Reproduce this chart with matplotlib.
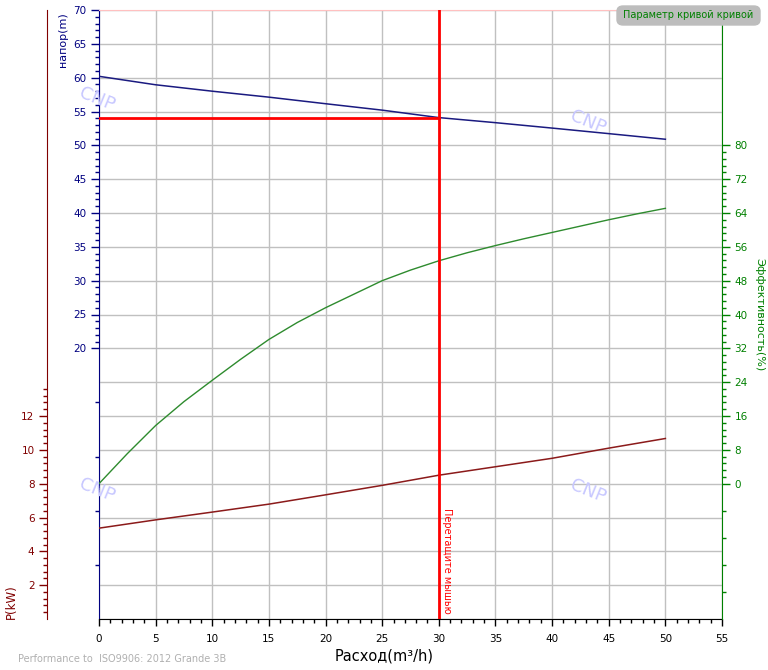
'''Pump curve chart: head, efficiency and power vs flow'''

import numpy as np
import matplotlib as ma
ma.use('agg')
import matplotlib.pyplot as plt
from matplotlib.patches import FancyBboxPatch

# values
flow = [0, 5, 10, 15, 20, 25, 30, 35, 40, 45, 50]
head = [60.2, 58.95, 58.0, 57.12, 56.15, 55.2, 54.1, 53.35, 52.55, 51.73, 50.9]
power = [5.37, 5.86, 6.32, 6.79, 7.34, 7.9, 8.5, 9.0, 9.5, 10.1, 10.67]

eff_flow = [0, 2.5, 5, 7.5, 10, 12.5, 15, 17.5, 20, 22.5, 25,
            27.5, 30, 32.5, 35, 37.5, 40, 42.5, 45, 47.5, 50]
eff = [0.0, 7.1, 13.75, 19.4, 24.45, 29.4, 34.1, 38.1, 41.6, 44.8, 48.0,
       50.5, 52.7, 54.6, 56.3, 57.9, 59.4, 60.9, 62.4, 63.8, 65.1]

op_flow = 30
op_head = 54.0

x_ticks = list(range(0, 56, 5))
head_ticks = list(range(20, 71, 5))
eff_ticks = list(range(0, 81, 8))
power_ticks = list(range(2, 13, 2))

NAVY = '#000080'
GREEN = '#008000'
MAROON = '#800000'
GRID = '#c0c0c0'
FS = 7.5

W, H = 768, 670
fig = plt.figure(figsize=(W / 100, H / 100), dpi=100)
rect = [99 / W, 1 - 619 / H, 623 / W, 609 / H]
ax = fig.add_axes(rect)

ax.set_xlim(0, 55)
ax.set_ylim(-20, 70)
for v in range(0, 56, 5):
    ax.axvline(v, color=GRID, lw=1, zorder=0)
for v in range(-20, 71, 5):
    ax.axhline(v, color=GRID, lw=1, zorder=0)

ax.set_xticks(x_ticks)
ax.set_xticks(np.arange(0, 56, 1), minor=True)
ax.set_yticks(head_ticks)
ax.set_yticks(list(np.arange(20, 71, 1)) + [12, 4, -4, -12], minor=True)
ax.tick_params(axis='x', which='major', length=5, width=1, pad=6, labelsize=FS, colors='black')
ax.tick_params(axis='x', which='minor', length=3, width=1, colors='black')
ax.tick_params(axis='y', which='major', length=6, width=1, pad=3, labelsize=FS, colors=NAVY)
ax.tick_params(axis='y', which='minor', length=3, width=1, colors=NAVY)
ax.spines['top'].set_color('#ffc0c0')
ax.spines['left'].set_color(NAVY)
ax.spines['bottom'].set_color('black')
ax.spines['right'].set_visible(False)

ax.plot(flow, head, color='#1a1a80', lw=1.1, zorder=3)
ax.plot([0, op_flow], [op_head, op_head], color='#ff0000', lw=2, zorder=4)

# efficiency axis on the right
ax2 = ax.twinx()
ax2.set_ylim(-32, 112)
ax2.set_yticks(eff_ticks)
ax2.set_yticks(list(np.arange(0, 80.1, 1.6)) + [-6.4, -12.8, -19.2, -25.6], minor=True)
ax2.tick_params(axis='y', which='major', length=6, width=1, pad=3, labelsize=FS, colors=GREEN)
ax2.tick_params(axis='y', which='minor', length=3, width=1, colors=GREEN)
for s in ['top', 'left', 'bottom']:
    ax2.spines[s].set_visible(False)
ax2.spines['right'].set_color(GREEN)
ax2.plot(eff_flow, eff, color='#2e8b2e', lw=1.0)

# power axis, offset to the left
ax3 = ax.twinx()
ax3.set_ylim(0, 36)
ax3.yaxis.set_ticks_position('left')
ax3.spines['left'].set_position(('axes', -52 / 623))
for s in ['top', 'right', 'bottom']:
    ax3.spines[s].set_visible(False)
ax3.spines['left'].set_visible(True)
ax3.spines['left'].set_color(MAROON)
ax3.set_yticks(power_ticks)
ax3.set_yticks(np.arange(0.4, 13.7, 0.4), minor=True)
ax3.tick_params(axis='y', which='major', length=6, width=1, pad=3, labelsize=FS, colors=MAROON)
ax3.tick_params(axis='y', which='minor', length=3, width=1, colors=MAROON)
ax3.plot(flow, power, color='#8b1a1a', lw=1.1)
ax3.axvline(op_flow, color='#ff0000', lw=2)
ax3.text(op_flow + 0.25, 0.3, 'Перетащите мышью', rotation=-90, color='#ff0000',
         fontsize=7, ha='left', va='bottom')

# axis titles
fig.text(63 / W, 1 - 12 / H, 'напор(m)', rotation=90, color=NAVY, fontsize=8,
         ha='center', va='top')
fig.text(11 / W, 1 - 619 / H, 'P(kW)', rotation=90, color=MAROON, fontsize=8.5,
         ha='center', va='bottom')
fig.text(759 / W, 1 - 315 / H, 'Эффективность(%)', rotation=-90, color=GREEN, fontsize=8,
         ha='center', va='center')
fig.text(0.5, 1 - 656 / H, 'Расход(m³/h)', fontsize=10.5, ha='center', va='center')
fig.text(18 / W, 1 - 659 / H, 'Performance to  ISO9906: 2012 Grande 3B', color='#b0b0b0',
         fontsize=7, ha='left', va='center')

# watermarks
for px, py in [(97, 99), (588, 122), (97, 490), (588, 491)]:
    fig.text(px / W, 1 - py / H, 'CNP', rotation=-22, color='#c8c8ff', fontsize=13,
             ha='center', va='center', zorder=10)

# button top right
fig.patches.append(FancyBboxPatch((617 / W, 1 - 25 / H), 143 / W, 19 / H,
                                  boxstyle='round,pad=0,rounding_size=0.008',
                                  transform=fig.transFigure, facecolor='#bdbdbd',
                                  edgecolor='#bdbdbd'))
fig.text(688 / W, 1 - 14.5 / H, 'Параметр кривой кривой', color=GREEN, fontsize=7,
         ha='center', va='center')

fig.savefig('out.png', dpi=100)
